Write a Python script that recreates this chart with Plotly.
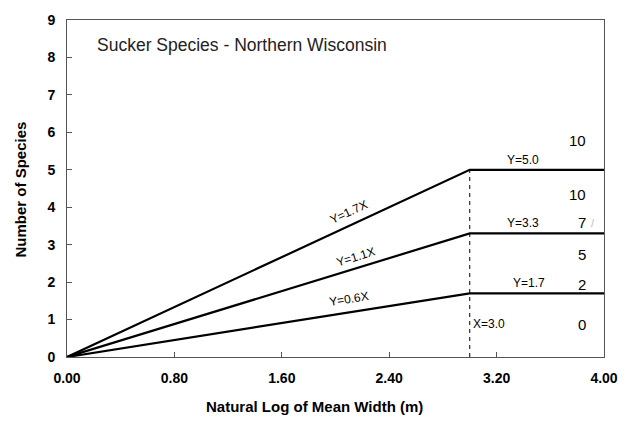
import plotly.graph_objects as go

# Data
slopes = [1.7, 1.1, 0.6]
slope_labels = ["Y=1.7X", "Y=1.1X", "Y=0.6X"]
breakpoint_x = 3.0
plateaus = [5.0, 3.3, 1.7]
plateau_labels = ["Y=5.0", "Y=3.3", "Y=1.7"]
x_end = 4.0
right_numbers = ["10", "10", "7", "5", "2", "0"]
right_number_y = [5.78, 4.35, 3.58, 2.73, 1.94, 0.88]
x_ticks = [0.0, 0.8, 1.6, 2.4, 3.2, 4.0]
x_tick_labels = ["0.00", "0.80", "1.60", "2.40", "3.20", "4.00"]
y_ticks = list(range(0, 10))

FONT = "Liberation Sans, Arial, sans-serif"

fig = go.Figure()

for p in plateaus:
    fig.add_trace(go.Scatter(x=[0, breakpoint_x, x_end], y=[0, p, p], mode="lines",
                             line=dict(color="black", width=2.2), showlegend=False,
                             hoverinfo="skip"))

# dashed vertical line at X=3.0
fig.add_trace(go.Scatter(x=[breakpoint_x, breakpoint_x], y=[0, max(plateaus)], mode="lines",
                         line=dict(color="black", width=1, dash="4px,4px"), showlegend=False,
                         hoverinfo="skip"))

# slope labels along the rising lines
label_x = [2.1, 2.15, 2.1]
angles = [-25, -17, -9]
for s, lab, lx, ang in zip(slopes, slope_labels, label_x, angles):
    fig.add_annotation(x=lx, y=s * lx, text=lab, showarrow=False, textangle=ang,
                       yshift=11, font=dict(family=FONT, size=12, color="black"))

# plateau labels
plab_x = [3.4, 3.4, 3.44]
for p, lab, lx in zip(plateaus, plateau_labels, plab_x):
    fig.add_annotation(x=lx, y=p, text=lab, showarrow=False, yshift=10,
                       font=dict(family=FONT, size=12, color="black"))

fig.add_annotation(x=breakpoint_x, y=0.88, text="X=3.0", showarrow=False, xanchor="left",
                   xshift=1, font=dict(family=FONT, size=12, color="black"))

for t, yv in zip(right_numbers, right_number_y):
    fig.add_annotation(x=3.88, y=yv, text=t, showarrow=False, xanchor="right",
                       font=dict(family=FONT, size=15, color="black"))

# faint mark next to the "7"
fig.add_annotation(x=3.89, y=3.58, text="/", showarrow=False, xanchor="left",
                   font=dict(family=FONT, size=11, color="#bbbbbb"))

fig.add_annotation(xref="paper", yref="paper", x=0.052, y=0.925, xanchor="left", yanchor="middle",
                   text="Sucker Species - Northern Wisconsin", showarrow=False,
                   font=dict(family=FONT, size=17.5, color="#222"))

# axis titles as annotations
fig.add_annotation(xref="paper", yref="paper", x=(314 - 67) / 537, y=-(407 - 357) / 342,
                   text="<b>Natural Log of Mean Width (m)</b>", showarrow=False,
                   xanchor="center", yanchor="middle",
                   font=dict(family=FONT, size=15, color="black"))
fig.add_annotation(xref="paper", yref="paper", x=-(67 - 20) / 537, y=(357 - 187) / 342,
                   text="<b>Number of Species</b>", showarrow=False, textangle=-90,
                   xanchor="center", yanchor="middle",
                   font=dict(family=FONT, size=15, color="black"))

fig.update_layout(
    width=633, height=433,
    margin=dict(l=67, r=29, t=15, b=76),
    plot_bgcolor="white", paper_bgcolor="white",
    font=dict(family=FONT, color="black"),
    xaxis=dict(range=[0, 4.0], tickvals=x_ticks, ticktext=x_tick_labels,
               showgrid=False, zeroline=False, showline=True, mirror=True,
               linecolor="#555", linewidth=1, ticks="inside", ticklen=5, tickcolor="#555",
               tickfont=dict(family=FONT, size=14, color="black", weight="bold"),
               ticklabelstandoff=8),
    yaxis=dict(range=[0, 9], tickvals=y_ticks, showgrid=False, zeroline=False,
               showline=True, mirror=True, linecolor="#555", linewidth=1,
               ticks="inside", ticklen=5, tickcolor="#555",
               tickfont=dict(family=FONT, size=14, color="black", weight="bold"),
               ticklabelstandoff=8),
)

fig.write_html("out.html")
